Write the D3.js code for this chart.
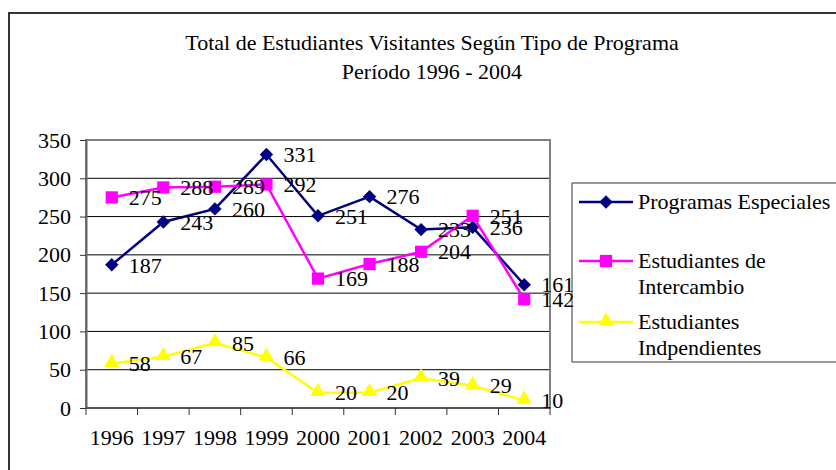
<!DOCTYPE html>
<html>
<head>
<meta charset="utf-8">
<script src="https://cdn.jsdelivr.net/npm/d3@7"></script>
<style>
  body { margin: 0; background: #fff; }
  svg { display: block; }
</style>
</head>
<body>
<div id="chart"></div>
<script>
const years = ["1996", "1997", "1998", "1999", "2000", "2001", "2002", "2003", "2004"];
const especiales = [187, 243, 260, 331, 251, 276, 233, 236, 161];
const intercambio = [275, 288, 289, 292, 169, 188, 204, 251, 142];
const independientes = [58, 67, 85, 66, 20, 20, 39, 29, 10];
const yTicks = [0, 50, 100, 150, 200, 250, 300, 350];

const series = [
    {name: ["Programas Especiales"], values: especiales, color: "#000080", shape: "diamond"},
    {name: ["Estudiantes de", "Intercambio"], values: intercambio, color: "#ff00ff", shape: "square"},
    {name: ["Estudiantes", "Indpendientes"], values: independientes, color: "#ffff00", shape: "triangle"}
];

const width = 836, height = 470;
const fontFamily = "Liberation Serif";
const fontSize = 22;
const plot = {left: 86, right: 550, top: 140, bottom: 408};

const x = d3.scaleBand().domain(years).range([plot.left, plot.right]);
const y = d3.scaleLinear().domain([0, 350]).range([plot.bottom, plot.top]);
const cx = d => x(d) + x.bandwidth() / 2;

const symbols = {
    diamond: d3.symbol().type(d3.symbolSquare).size(90),
    square: d3.symbol().type(d3.symbolSquare).size(150),
    triangle: d3.symbol().type(d3.symbolTriangle).size(100)
};
const symbolTransform = (s, px, py) => s.shape === "diamond"
    ? `translate(${px},${py}) rotate(45)`
    : s.shape === "triangle" ? `translate(${px},${py - 1})` : `translate(${px},${py})`;

const svg = d3.select("#chart").append("svg")
    .attr("width", width)
    .attr("height", height);

const styleText = sel => sel
    .attr("font-family", fontFamily)
    .attr("font-size", fontSize)
    .attr("fill", "#000");

// chart area border (runs off the page right and bottom)
svg.append("path")
    .attr("d", `M9,${height + 5}V13H${width + 5}`)
    .attr("fill", "none")
    .attr("stroke", "#333")
    .attr("stroke-width", 2);

// title
const title = svg.append("text")
    .attr("text-anchor", "middle")
    .call(styleText);
title.append("tspan").attr("x", 432).attr("y", 50).text("Total de Estudiantes Visitantes Según Tipo de Programa");
title.append("tspan").attr("x", 432).attr("y", 79).text("Período 1996 - 2004");

// gridlines
svg.append("g")
    .selectAll("line")
    .data(yTicks.filter(d => d > 0 && d < 350))
    .join("line")
        .attr("x1", plot.left).attr("x2", plot.right)
        .attr("y1", d => y(d)).attr("y2", d => y(d))
        .attr("stroke", "#000")
        .attr("stroke-width", 1);

// plot area border
svg.append("rect")
    .attr("x", plot.left).attr("y", plot.top)
    .attr("width", plot.right - plot.left)
    .attr("height", plot.bottom - plot.top)
    .attr("fill", "none")
    .attr("stroke", "#808080")
    .attr("stroke-width", 2);

// y axis
const yAxis = svg.append("g")
    .attr("transform", `translate(${plot.left},0)`)
    .call(d3.axisLeft(y).tickValues(yTicks).tickSize(6).tickPadding(9).tickSizeOuter(0));
yAxis.select(".domain").attr("stroke", "#666").attr("stroke-width", 2);
yAxis.selectAll(".tick line").attr("stroke", "#333");
yAxis.selectAll(".tick text").call(styleText);

// x axis
const xAxis = svg.append("g")
    .attr("transform", `translate(0,${plot.bottom})`);
xAxis.append("line")
    .attr("x1", plot.left).attr("x2", plot.right)
    .attr("stroke", "#555").attr("stroke-width", 2);
xAxis.selectAll(".tk")
    .data(years.concat([null]))
    .join("line")
        .attr("class", "tk")
        .attr("x1", d => d ? x(d) : plot.right)
        .attr("x2", d => d ? x(d) : plot.right)
        .attr("y1", 0).attr("y2", 7)
        .attr("stroke", "#333");
xAxis.selectAll("text")
    .data(years)
    .join("text")
        .attr("x", d => cx(d))
        .attr("y", 37)
        .attr("text-anchor", "middle")
        .call(styleText)
        .text(d => d);

// series
const line = d3.line()
    .x((d, i) => cx(years[i]))
    .y(d => y(d));

series.forEach(s => {
    const g = svg.append("g");
    g.append("path")
        .datum(s.values)
        .attr("d", line)
        .attr("fill", "none")
        .attr("stroke", s.color)
        .attr("stroke-width", 2.5);
    g.selectAll(".mk")
        .data(s.values)
        .join("path")
            .attr("class", "mk")
            .attr("d", symbols[s.shape])
            .attr("transform", (d, i) => symbolTransform(s, cx(years[i]), y(d)))
            .attr("fill", s.color);
});

// data labels
series.forEach(s => {
    svg.append("g")
        .selectAll("text")
        .data(s.values)
        .join("text")
            .attr("x", (d, i) => cx(years[i]) + 17)
            .attr("y", d => y(d))
            .attr("dy", "0.35em")
            .call(styleText)
            .text(d => d);
});

// legend
const legend = svg.append("g");
legend.append("path")
    .attr("d", `M${width + 5},183H572V362H${width + 5}`)
    .attr("fill", "none")
    .attr("stroke", "#333")
    .attr("stroke-width", 1);

const legendRows = [202, 261, 322];
series.forEach((s, i) => {
    const ly = legendRows[i];
    legend.append("line")
        .attr("x1", 579).attr("x2", 633)
        .attr("y1", ly).attr("y2", ly)
        .attr("stroke", s.color)
        .attr("stroke-width", 2.5);
    legend.append("path")
        .attr("d", symbols[s.shape])
        .attr("transform", symbolTransform(s, 606, ly))
        .attr("fill", s.color);
    legend.append("text")
        .call(styleText)
        .selectAll("tspan")
        .data(s.name)
        .join("tspan")
            .attr("x", 638)
            .attr("y", (d, j) => ly + 7 + j * 26)
            .text(d => d);
});
</script>
</body>
</html>
